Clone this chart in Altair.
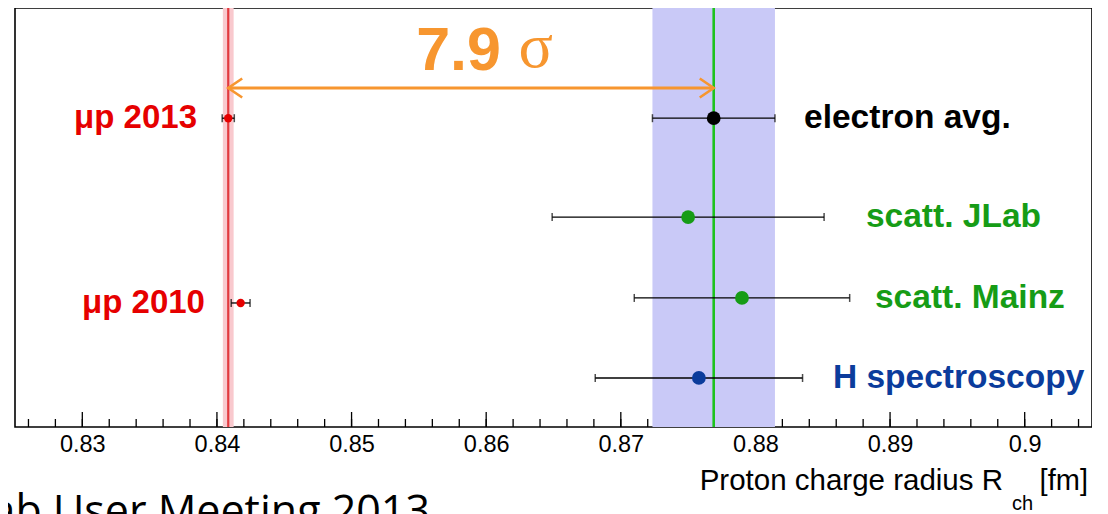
import altair as alt
import pandas as pd

# ---------------- data ----------------
names = ["μp 2013", "μp 2010", "electron avg.", "scatt. JLab", "scatt. Mainz", "H spectroscopy"]
radius = [0.84084, 0.84176, 0.8769, 0.8750, 0.8790, 0.8758]
err = [0.00045, 0.0007, 0.00455, 0.0101, 0.0080, 0.0077]
row = [7.37, 2.96, 7.37, 5.01, 3.08, 1.17]
colors = ["#e60000", "#e60000", "#000000", "#169c16", "#169c16", "#0b3c9c"]
dot_size = [70, 70, 190, 190, 190, 190]
label_x = [0.83852, 0.83911, 0.88361, 0.88821, 0.88888, 0.88576]
label_side = ["left", "left", "right", "right", "right", "right"]

mu_band = [0.84044, 0.84124]
e_band = [0.87235, 0.88145]
mu_line = 0.84084
e_line = 0.8769
arrow_row = 8.09

major_ticks = [0.83, 0.84, 0.85, 0.86, 0.87, 0.88, 0.89, 0.90]
minor_ticks = [0.826, 0.828, 0.83, 0.832, 0.834, 0.836, 0.838, 0.84, 0.842, 0.844,
               0.846, 0.848, 0.85, 0.852, 0.854, 0.856, 0.858, 0.86, 0.862, 0.864,
               0.866, 0.868, 0.87, 0.872, 0.874, 0.876, 0.878, 0.88, 0.882, 0.884,
               0.886, 0.888, 0.89, 0.892, 0.894, 0.896, 0.898, 0.90, 0.902, 0.904]

W, H = 1077, 419
ORANGE = "#f7962f"
FONT = "Liberation Sans"

df = pd.DataFrame({"name": names, "r": radius, "e": err, "row": row,
                   "color": colors, "size": dot_size, "lx": label_x, "side": label_side})
df["lo"] = df["r"] - df["e"]
df["hi"] = df["r"] + df["e"]
caps = pd.concat([df[["lo", "row"]].rename(columns={"lo": "c"}),
                  df[["hi", "row"]].rename(columns={"hi": "c"})])

xs = alt.Scale(domain=[0.825, 0.905], nice=False, zero=False)
ys = alt.Scale(domain=[0, 10], nice=False, zero=False)
xaxis = alt.Axis(values=major_ticks, format=".2~f", ticks=False, tickSize=0, domain=False,
                 grid=False, labelFontSize=23.5, labelFont=FONT, labelColor="black",
                 labelPadding=5, title=None)


def X(f):
    return alt.X(f, type="quantitative", scale=xs, axis=xaxis)


def Y(f):
    return alt.Y(f, type="quantitative", scale=ys, axis=None)


# ticks (inward)
minor = alt.Chart(pd.DataFrame({"t": minor_ticks})).mark_rule(color="black", strokeWidth=1.3).encode(
    x=X("t"), y=alt.value(H), y2=alt.value(H - 8))
major = alt.Chart(pd.DataFrame({"t": major_ticks})).mark_rule(color="black", strokeWidth=1.3).encode(
    x=X("t"), y=alt.value(H), y2=alt.value(H - 15))

bands = alt.Chart(pd.DataFrame({"a": [mu_band[0], e_band[0]], "b": [mu_band[1], e_band[1]],
                                "c": ["#f9c9ce", "#c9c9f7"]})).mark_rect().encode(
    x=X("a"), x2="b", y=alt.value(0), y2=alt.value(H), color=alt.Color("c:N", scale=None))

vlines = alt.Chart(pd.DataFrame({"v": [mu_line, e_line], "c": ["#e23a3f", "#1ec31e"],
                                 "w": [2.2, 2.6]})).mark_rule().encode(
    x=X("v"), y=alt.value(0), y2=alt.value(H), color=alt.Color("c:N", scale=None),
    strokeWidth=alt.StrokeWidth("w:Q", scale=None))

arrow_line = alt.Chart(pd.DataFrame({"a": [mu_line], "b": [e_line], "y": [arrow_row]})).mark_rule(
    color=ORANGE, strokeWidth=3).encode(x=X("a"), x2="b", y=Y("y"))
head_l = alt.Chart(pd.DataFrame({"a": [mu_line], "y": [arrow_row]})).mark_point(
    shape="M1.47,-1L0,0L1.47,1", filled=False, color=ORANGE, strokeWidth=2.6, size=361,
    opacity=1).encode(x=X("a"), y=Y("y"))
head_r = alt.Chart(pd.DataFrame({"a": [e_line], "y": [arrow_row]})).mark_point(
    shape="M-1.47,-1L0,0L-1.47,1", filled=False, color=ORANGE, strokeWidth=2.6, size=361,
    opacity=1).encode(x=X("a"), y=Y("y"))

ebar = alt.Chart(df).mark_rule(color="black", strokeWidth=1.3).encode(
    x=X("lo"), x2="hi", y=Y("row"))
ecap = alt.Chart(caps).mark_tick(orient="vertical", color="black", thickness=1.5, size=8).encode(
    x=X("c"), y=Y("row"))
dots = alt.Chart(df).mark_circle(opacity=1).encode(
    x=X("r"), y=Y("row"), color=alt.Color("color:N", scale=None),
    size=alt.Size("size:Q", scale=None))

lab_l = alt.Chart(df[df["side"] == "left"]).mark_text(
    align="right", baseline="middle", font=FONT, fontWeight="bold", fontSize=33).encode(
    x=X("lx"), y=Y("row"), text="name", color=alt.Color("color:N", scale=None))
lab_r = alt.Chart(df[df["side"] == "right"]).mark_text(
    align="left", baseline="middle", font=FONT, fontWeight="bold", fontSize=33.5).encode(
    x=X("lx"), y=Y("row"), text="name", color=alt.Color("color:N", scale=None))

# annotation texts
sig_num = alt.Chart(pd.DataFrame({"x": [0.8611], "y": [8.52], "t": ["7.9"]})).mark_text(
    align="right", baseline="alphabetic", font=FONT, fontWeight="bold", fontSize=61,
    color=ORANGE).encode(x=X("x"), y=Y("y"), text="t")
sig_sym = alt.Chart(pd.DataFrame({"x": [0.8624], "y": [8.59], "t": ["σ"]})).mark_text(
    align="left", baseline="alphabetic", font="Liberation Serif", fontSize=64,
    color=ORANGE).encode(x=X("x"), y=Y("y"), text="t")

title_main = alt.Chart(pd.DataFrame({"x": [0.89839], "y": [-1.5036],
                                     "t": ["Proton charge radius R"]})).mark_text(
    align="right", baseline="alphabetic", font=FONT, fontSize=29.5, color="black").encode(
    x=X("x"), y=Y("y"), text="t")
title_sub = alt.Chart(pd.DataFrame({"x": [0.89984], "y": [-1.98], "t": ["ch"]})).mark_text(
    align="center", baseline="alphabetic", font=FONT, fontSize=20, color="black").encode(
    x=X("x"), y=Y("y"), text="t")
title_unit = alt.Chart(pd.DataFrame({"x": [0.90470], "y": [-1.5036], "t": ["[fm]"]})).mark_text(
    align="right", baseline="alphabetic", font=FONT, fontSize=29, color="black").encode(
    x=X("x"), y=Y("y"), text="t")

slide = alt.Chart(pd.DataFrame({"x": [0.85583], "y": [-2.363],
                                "t": ["JLab User Meeting 2013"]})).mark_text(
    align="right", baseline="alphabetic", font="Open Sans", fontSize=43, color="black").encode(
    x=X("x"), y=Y("y"), text="t")

chart = alt.layer(
    minor, major, bands, vlines, arrow_line, head_l, head_r, ebar, ecap, dots,
    lab_l, lab_r, sig_num, sig_sym, title_main, title_sub, title_unit, slide
).properties(
    width=W, height=H,
    autosize=alt.AutoSizeParams(type="none"),
    padding={"left": 7, "top": 0, "right": 0, "bottom": 87},
    background="white",
).configure_view(stroke="black", strokeWidth=1.6)

chart.save("out.html", embed_options={"renderer": "svg", "actions": False})
